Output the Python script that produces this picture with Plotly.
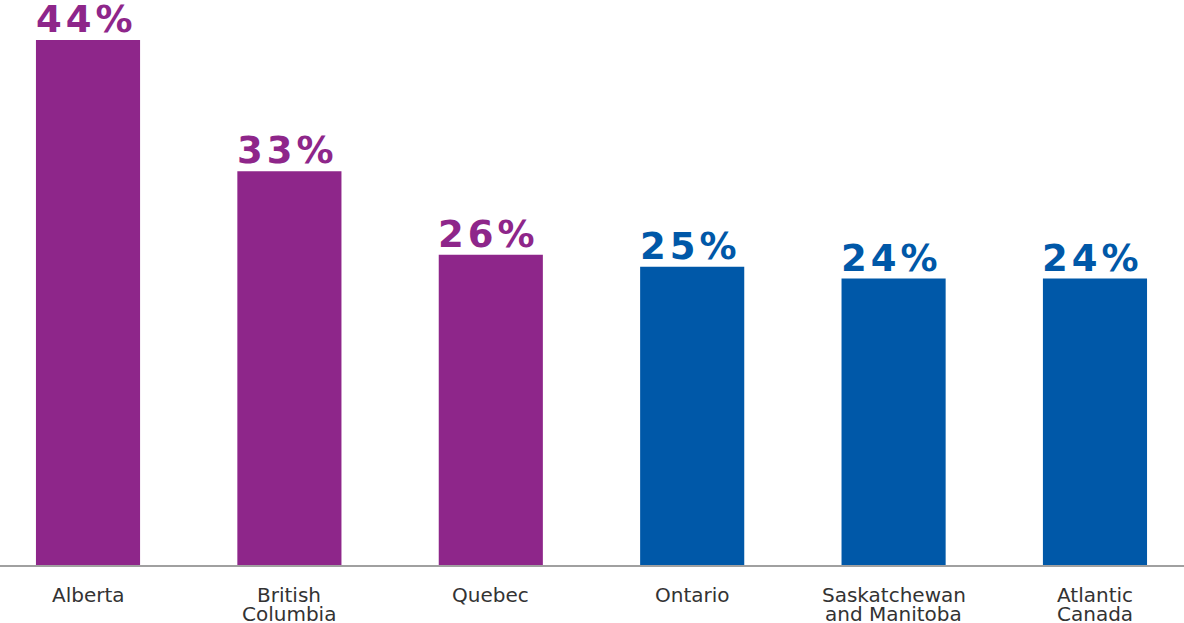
import plotly.graph_objects as go

regions = ["Alberta", "British<br>Columbia", "Quebec", "Ontario", "Saskatchewan<br>and Manitoba", "Atlantic<br>Canada"]
values = [44, 33, 26, 25, 24, 24]
labels = ["44%", "33%", "26%", "25%", "24%", "24%"]
PURPLE = "#8E268A"
BLUE = "#0058A8"
colors = [PURPLE, PURPLE, PURPLE, BLUE, BLUE, BLUE]

VAL_LS = 4    # letter spacing of value labels (px)

xs = list(range(len(regions)))

fig = go.Figure(go.Bar(
    x=xs, y=values,
    marker=dict(color=colors, line=dict(width=0)),
    width=0.517, hoverinfo="skip",
))

annotations = []
for i, (v, lab, c) in enumerate(zip(values, labels, colors)):
    annotations.append(dict(
        x=i, y=v, xref="x", yref="y", text=lab, showarrow=False,
        yanchor="bottom", xanchor="center", yshift=-3, xshift=-VAL_LS / 2,
        font=dict(family="DejaVu Sans", size=37, color=c, weight="bold"),
    ))
for i, reg in enumerate(regions):
    for j, line in enumerate(reg.split("<br>")):
        annotations.append(dict(
            x=i, y=0, xref="x", yref="paper", text=line, showarrow=False,
            yanchor="middle", xanchor="center", yshift=-30 - 19 * j,
            font=dict(family="DejaVu Sans", size=20, color="#333333"),
        ))

fig.update_layout(
    width=1184, height=623,
    margin=dict(l=0, r=0, t=0, b=58),
    paper_bgcolor="white", plot_bgcolor="white",
    showlegend=False,
    annotations=annotations,
    xaxis=dict(range=[-0.437, 5.442], showticklabels=False, automargin=False,
               showgrid=False, zeroline=False,
               showline=True, linecolor="#a0a0a0", linewidth=1.5, ticks=""),
    yaxis=dict(range=[0, 47.35], visible=False, showgrid=False, zeroline=False,
               automargin=False),
)

post = f"""
(function(){{
  var gd = document.querySelector('.plotly-graph-div');
  function apply(){{
    gd.querySelectorAll('.annotation-text').forEach(function(t){{
      var fs = parseFloat(t.style.fontSize || t.getAttribute('font-size') || 0);
      if (fs > 25) t.style.letterSpacing = '{VAL_LS}px';
    }});
  }}
  apply();
  gd.on('plotly_afterplot', apply);
}})();
"""

fig.write_html("out.html", post_script=post)
